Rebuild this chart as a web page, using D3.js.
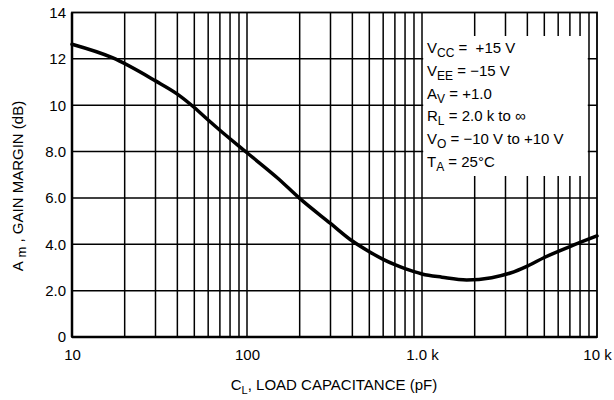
<!DOCTYPE html>
<html><head><meta charset="utf-8">
<script src="https://cdn.jsdelivr.net/npm/d3@7"></script>
<style>
html,body{margin:0;padding:0;background:#fff;}
text{font-family:"Liberation Sans",Arial,Helvetica,sans-serif;fill:#000;white-space:pre;}
</style></head>
<body><svg id="c" width="614" height="400"></svg>
<script>
// Data
const capacitance = [10, 17, 30, 40, 50, 60, 70, 100, 150, 200, 300, 400, 500, 600, 700, 800, 900, 1000, 1300, 1800, 2500, 3200, 4000, 5000, 7000, 10000];
const gainMargin  = [12.63, 12.05, 11.05, 10.48, 9.9, 9.36, 8.92, 7.95, 6.85, 5.98, 4.9, 4.14, 3.68, 3.35, 3.12, 2.95, 2.82, 2.72, 2.58, 2.46, 2.56, 2.76, 3.06, 3.43, 3.9, 4.36];
const xTickValues = [10, 100, 1000, 10000];
const xTickLabels = ["10", "100", "1.0 k", "10 k"];
const yTickValues = [0, 2, 4, 6, 8, 10, 12, 14];
const yTickLabels = ["0", "2.0", "4.0", "6.0", "8.0", "10", "12", "14"];
const conditions = [
  ["V", "CC", " =  +15 V"],
  ["V", "EE", " = \u221215 V"],
  ["A", "V", " = +1.0"],
  ["R", "L", " = 2.0 k to \u221e"],
  ["V", "O", " = \u221210 V to +10 V"],
  ["T", "A", " = 25\u00b0C"]
];

const svg = d3.select("#c");
const L = 72, R = 597, T = 12.5, B = 337;
const x = d3.scaleLog().domain([10, 10000]).range([L, R]);
const y = d3.scaleLinear().domain([0, 14]).range([B, T]);

// minor + major vertical grid
const vGrid = [];
for (let d = 10; d < 10000; d *= 10) for (let m = 1; m <= 9; m++) { const v = d * m; if (v > 10 && v < 10000) vGrid.push(v); }
svg.append("g").selectAll("line").data(vGrid).join("line")
  .attr("x1", d => x(d)).attr("x2", d => x(d)).attr("y1", T).attr("y2", B)
  .attr("stroke", "#000").attr("stroke-width", 1.5);
svg.append("g").selectAll("line").data(yTickValues.filter(v => v > 0 && v < 14)).join("line")
  .attr("x1", L).attr("x2", R).attr("y1", d => y(d)).attr("y2", d => y(d))
  .attr("stroke", "#000").attr("stroke-width", 1.5);

// blank box behind conditions
svg.append("rect").attr("x", x(1000) + 1.2).attr("y", 36).attr("width", x(9000) - x(1000) - 2.4).attr("height", 140).attr("fill", "#fff");

// frame
svg.append("rect").attr("x", L).attr("y", T).attr("width", R - L).attr("height", B - T)
  .attr("fill", "none").attr("stroke", "#000").attr("stroke-width", 1.8);
svg.append("line").attr("x1", L).attr("x2", L).attr("y1", T).attr("y2", B).attr("stroke", "#000").attr("stroke-width", 2.5);
svg.append("line").attr("x1", L).attr("x2", R).attr("y1", B).attr("y2", B).attr("stroke", "#000").attr("stroke-width", 2.5);

// curve
const pts = capacitance.map((c, i) => [c, gainMargin[i]]);
svg.append("path").datum(pts)
  .attr("d", d3.line().x(d => x(d[0])).y(d => y(d[1])).curve(d3.curveMonotoneX))
  .attr("fill", "none").attr("stroke", "#000").attr("stroke-width", 3.5).attr("stroke-linecap", "round").attr("stroke-linejoin", "round");

// axes (labels only)
const xAxis = d3.axisBottom(x).tickValues(xTickValues).tickSize(0).tickPadding(12)
  .tickFormat((d, i) => xTickLabels[i]);
const gx = svg.append("g").attr("transform", `translate(0,${B})`).call(xAxis);
gx.select(".domain").remove();
gx.selectAll("text").attr("font-size", 15).attr("font-family", null);

const yAxis = d3.axisLeft(y).tickValues(yTickValues).tickSize(0).tickPadding(6)
  .tickFormat((d, i) => yTickLabels[i]);
const gy = svg.append("g").attr("transform", `translate(${L},0)`).call(yAxis);
gy.select(".domain").remove();
gy.selectAll("text").attr("font-size", 15).attr("font-family", null);

// axis titles
const xt = svg.append("text").attr("x", 334).attr("y", 390).attr("text-anchor", "middle").attr("font-size", 15);
xt.append("tspan").text("C");
xt.append("tspan").attr("dy", 4).attr("font-size", 11).text("L");
xt.append("tspan").attr("dy", -4).text(", LOAD CAPACITANCE (pF)");

const yt = svg.append("text").attr("transform", "translate(23,186) rotate(-90)").attr("text-anchor", "middle").attr("font-size", 15);
yt.append("tspan").text("A");
yt.append("tspan").attr("dy", 3).attr("font-size", 13).text(" m");
yt.append("tspan").attr("dy", -3).text(" , GAIN MARGIN (dB)");

// conditions
conditions.forEach((c, i) => {
  const t = svg.append("text").attr("x", 427).attr("y", 53 + i * 22.8).attr("font-size", 15);
  t.append("tspan").text(c[0]);
  t.append("tspan").attr("dy", 4).attr("font-size", 12).text(c[1]);
  t.append("tspan").attr("dy", -4).text(c[2]);
});
</script></body></html>
